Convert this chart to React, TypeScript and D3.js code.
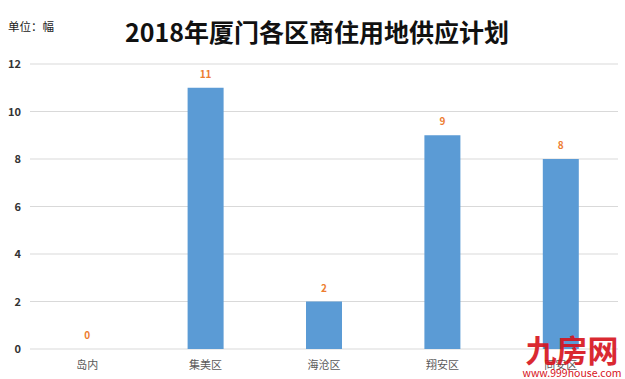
import React from "react";
import * as d3 from "d3";

const categories = ["岛内", "集美区", "海沧区", "翔安区", "同安区"];
const values = [0, 11, 2, 9, 8];
const yTicks = [0, 2, 4, 6, 8, 10, 12];
const title = "2018年厦门各区商住用地供应计划";
const unitLabel = "单位：幅";

const W = 625;
const H = 379;

export default function App() {
  const x = d3.scaleBand<string>().domain(categories).range([28, 620]).paddingInner(0.305).paddingOuter(0.1525);
  const y = d3.scaleLinear().domain([0, 12]).range([349, 64]);
  const bw = 36;
  const font = "'Noto Sans CJK SC', 'Noto Sans', sans-serif";
  return (
    <svg width={W} height={H} style={{ position: "absolute", left: 0, top: 0, background: "#fff" }} fontFamily={font}>
      <rect width={W} height={H} fill="#fff" />
      <text x={8} y={31} fontSize={11.5} fill="#222">{unitLabel}</text>
      <text x={317} y={42} fontSize={25} fontWeight="bold" textAnchor="middle" fill="#111">{title}</text>
      {yTicks.map((t) => (
        <g key={t}>
          <line x1={30} x2={618} y1={y(t)} y2={y(t)} stroke="#d9d9d9" strokeWidth={1} />
          <text x={21} y={y(t) + 4} fontSize={11} fontWeight="bold" textAnchor="end" fill="#333">{t}</text>
        </g>
      ))}
      {categories.map((c, i) => {
        const cx = (x(c) as number) + x.bandwidth() / 2;
        return (
          <g key={c}>
            <rect x={cx - bw / 2} y={y(values[i])} width={bw} height={y(0) - y(values[i])} fill="#5b9bd5" />
            <text x={cx} y={y(values[i]) - 10} fontSize={10} fontWeight="bold" textAnchor="middle" fill="#ed7d31">{values[i]}</text>
            <text x={cx} y={369} fontSize={11} textAnchor="middle" fill="#595959">{c}</text>
          </g>
        );
      })}
      <g>
        <text x={572} y={362} fontSize={31} fontWeight="bold" textAnchor="middle" fill="#d7121b" opacity={0.9}>九房网</text>
        <text x={572} y={377} fontSize={10.5} textAnchor="middle" fill="#d7121b">www.999house.com</text>
      </g>
    </svg>
  );
}
